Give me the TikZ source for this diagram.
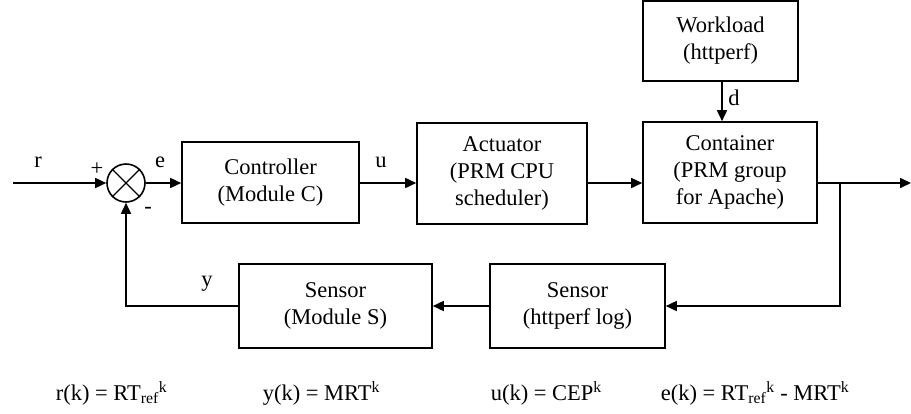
\documentclass[tikz,border=0pt]{standalone}
\usepackage{fontspec}
\setmainfont{Liberation Serif}
\usetikzlibrary{arrows.meta,calc}
\begin{document}
\begin{tikzpicture}[x=1pt,y=-1pt,
  line width=1.6pt,
  font=\fontsize{22.5}{27}\selectfont,
  blk/.style={draw,rectangle,align=center,inner sep=0pt},
  sumnode/.style={draw,circle,minimum size=38pt,inner sep=0pt},
  arr/.style={-{Triangle[length=11pt,width=10pt]}},
  lbl/.style={inner sep=0pt}]
\useasboundingbox (0,0) rectangle (911,413);
\node[blk,minimum width=177pt,minimum height=81pt] (ctrl) at (270.5,182.5) {Controller\\(Module C)};
\node[blk,minimum width=170pt,minimum height=101pt] (act) at (502,173.5) {Actuator\\(PRM CPU\\scheduler)};
\node[blk,minimum width=174pt,minimum height=101pt] (cont) at (730,172.5) {Container\\(PRM group\\for Apache)};
\node[blk,minimum width=155pt,minimum height=80pt] (work) at (720.5,41) {Workload\\(httperf)};
\node[blk,minimum width=193pt,minimum height=84pt] (sensS) at (335.5,306) {Sensor\\(Module S)};
\node[blk,minimum width=175pt,minimum height=84pt] (sensH) at (577.5,306) {Sensor\\(httperf log)};
\node[sumnode] (sum) at (126,183) {};
\draw[line width=1.2pt] (sum.north west) -- (sum.south east);
\draw[line width=1.2pt] (sum.north east) -- (sum.south west);
\coordinate (in) at (13,183);
\coordinate (m) at (0,183);
\coordinate (out) at (911,183);
\coordinate (br) at (840,183);
\draw[arr] (in) -- (sum.west);
\draw[arr] (sum.east) -- (ctrl.west |- sum.east);
\draw[arr] (ctrl.east |- m) -- (act.west |- m);
\draw[arr] (act.east |- m) -- (cont.west |- m);
\draw[arr] (cont.east |- m) -- (out);
\draw[arr] (work.south -| 722,0) -- (cont.north -| 722,0);
\draw[arr] (br) |- (sensH.east);
\draw[arr] (sensH.west) -- (sensS.east);
\draw[arr] (sensS.west) -| (sum.south);
\node[lbl] (lr) at (38,162) {r};
\node[lbl] (lp) at (97,169) {+};
\node[lbl] (le) at (160,162) {e};
\node[lbl] (lm) at (148,210) {-};
\node[lbl] (lu) at (381,162) {u};
\node[lbl] (ly) at (207,284) {y};
\node[lbl] (ld) at (734,98) {d};
\node[lbl,anchor=base west] (eqr) at (55,400) {r(k) = RT\textsubscript{ref}\textsuperscript{k}};
\node[lbl,anchor=base west] (eqy) at (262,400) {y(k) = MRT\textsuperscript{k}};
\node[lbl,anchor=base west] (equ) at (490,400) {u(k) = CEP\textsuperscript{k}};
\node[lbl,anchor=base west] (eqe) at (660,400) {e(k) = RT\textsubscript{ref}\textsuperscript{k} - MRT\textsuperscript{k}};
\end{tikzpicture}
\end{document}
